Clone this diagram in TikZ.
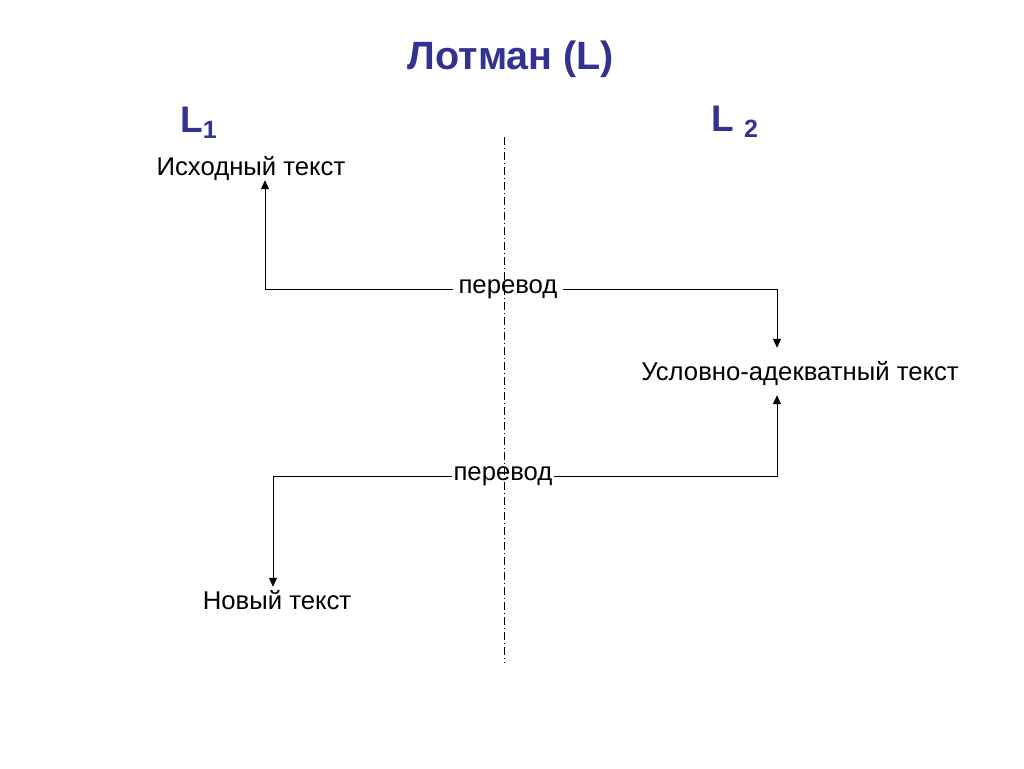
\documentclass[tikz,border=0pt]{standalone}
\usepackage{fontspec}
\setmainfont{Liberation Sans}
\usepackage{xcolor}
\usetikzlibrary{arrows.meta,positioning}
\definecolor{lotblue}{RGB}{51,51,143}
\begin{document}
\begin{tikzpicture}[x=1pt,y=-1pt,
  txt/.style={inner sep=0pt,anchor=base,text height=18pt,text depth=5pt,
              font=\fontsize{25.7}{31}\selectfont},
  lang/.style={inner sep=0pt,anchor=base west,text=lotblue,
               font=\fontsize{37}{44}\selectfont\bfseries},
  lbl/.style={inner sep=5pt,font=\fontsize{25.7}{31}\selectfont},
  edge/.style={-{Triangle[length=9pt,width=8pt]},line width=1pt},
  divider/.style={line width=0.8pt,dash pattern=on 8pt off 3pt on 1pt off 3pt}]
\useasboundingbox (0,0) rectangle (1024,768);
\node[text=lotblue,font=\fontsize{39.5}{47}\selectfont\bfseries] (title) at (511,59) {Лотман (L)};
\node[lang] (lone) at (180,132) {L\raisebox{-6pt}{\fontsize{25}{25}\selectfont 1}};
\node[lang] (ltwo) at (711,131) {L \raisebox{-6pt}{\fontsize{25}{25}\selectfont 2}};
\node[txt] (source) at (251,175) {Исходный текст};
\node[txt] (adequate) at (800,380) {Условно-адекватный текст};
\node[txt] (newtext) at (277,609) {Новый текст};
\node[lbl] (transone) at (508,289) {перевод};
\node[lbl,inner sep=1.5pt] (transtwo) at (503,476) {перевод};
\coordinate (divtop) at (504,137);
\coordinate (divbot) at (504,663);
\draw[divider] (divtop)--(divbot);
\draw[edge] (transone.west) -| ([xshift=14pt]source.south);
\draw[edge] (transone.east) -| ([xshift=-23pt,yshift=14pt]adequate.north);
\draw[edge] (transtwo.east) -| ([xshift=-23pt,yshift=-10pt]adequate.south);
\draw[edge] (transtwo.west) -| ([xshift=-4pt,yshift=4pt]newtext.north);
\end{tikzpicture}
\end{document}
